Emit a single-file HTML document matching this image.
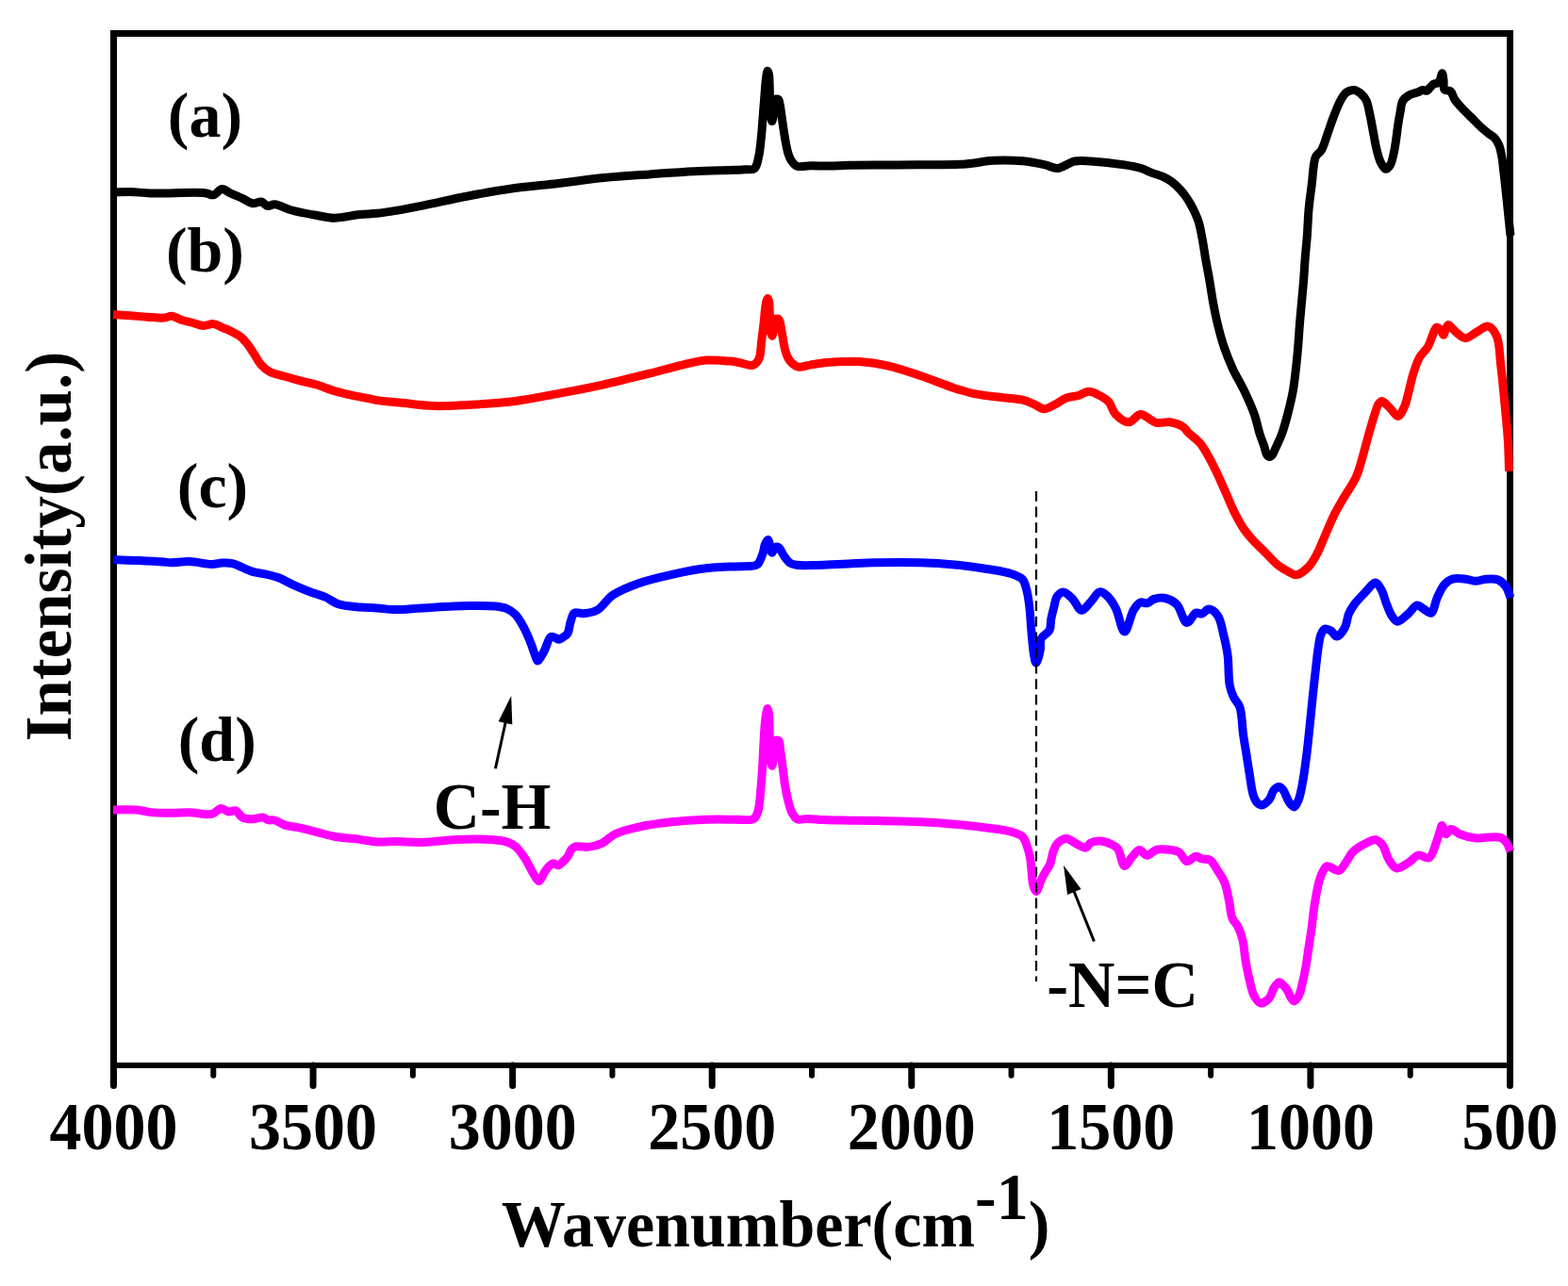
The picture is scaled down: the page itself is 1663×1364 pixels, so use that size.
<!DOCTYPE html>
<html><head><meta charset="utf-8"><style>
html,body{margin:0;padding:0;background:#fff;}
svg{display:block;}
text{font-family:"Liberation Serif","Times New Roman",serif;font-weight:bold;fill:#000;}
.t{font-size:68px;}
.l{font-size:68px;}
.l2{font-size:70.5px;}
.ax{font-size:71px;}
</style></head><body>
<svg width="1663" height="1364" viewBox="0 0 1663 1364">
<rect width="1663" height="1364" fill="#fff"/>
<rect x="117" y="32" width="1488" height="7" fill="#000"/>
<rect x="117" y="32" width="7" height="1101" fill="#000"/>
<rect x="1598" y="32" width="7" height="1101" fill="#000"/>
<rect x="117" y="1127" width="1488" height="6" fill="#000"/>
<line x1="120.50" y1="1130" x2="120.50" y2="1151.5" stroke="#000" stroke-width="7" stroke-linecap="round"/>
<line x1="332.07" y1="1130" x2="332.07" y2="1151.5" stroke="#000" stroke-width="7" stroke-linecap="round"/>
<line x1="543.64" y1="1130" x2="543.64" y2="1151.5" stroke="#000" stroke-width="7" stroke-linecap="round"/>
<line x1="755.21" y1="1130" x2="755.21" y2="1151.5" stroke="#000" stroke-width="7" stroke-linecap="round"/>
<line x1="966.78" y1="1130" x2="966.78" y2="1151.5" stroke="#000" stroke-width="7" stroke-linecap="round"/>
<line x1="1178.35" y1="1130" x2="1178.35" y2="1151.5" stroke="#000" stroke-width="7" stroke-linecap="round"/>
<line x1="1389.92" y1="1130" x2="1389.92" y2="1151.5" stroke="#000" stroke-width="7" stroke-linecap="round"/>
<line x1="1601.49" y1="1130" x2="1601.49" y2="1151.5" stroke="#000" stroke-width="7" stroke-linecap="round"/>
<line x1="226.29" y1="1130" x2="226.29" y2="1140.8" stroke="#000" stroke-width="6" stroke-linecap="round"/>
<line x1="437.86" y1="1130" x2="437.86" y2="1140.8" stroke="#000" stroke-width="6" stroke-linecap="round"/>
<line x1="649.43" y1="1130" x2="649.43" y2="1140.8" stroke="#000" stroke-width="6" stroke-linecap="round"/>
<line x1="861.00" y1="1130" x2="861.00" y2="1140.8" stroke="#000" stroke-width="6" stroke-linecap="round"/>
<line x1="1072.57" y1="1130" x2="1072.57" y2="1140.8" stroke="#000" stroke-width="6" stroke-linecap="round"/>
<line x1="1284.13" y1="1130" x2="1284.13" y2="1140.8" stroke="#000" stroke-width="6" stroke-linecap="round"/>
<line x1="1495.71" y1="1130" x2="1495.71" y2="1140.8" stroke="#000" stroke-width="6" stroke-linecap="round"/>
<text transform="translate(120.50,1219.3) scale(1,1.05)" class="t" text-anchor="middle">4000</text>
<text transform="translate(332.07,1219.3) scale(1,1.05)" class="t" text-anchor="middle">3500</text>
<text transform="translate(543.64,1219.3) scale(1,1.05)" class="t" text-anchor="middle">3000</text>
<text transform="translate(755.21,1219.3) scale(1,1.05)" class="t" text-anchor="middle">2500</text>
<text transform="translate(966.78,1219.3) scale(1,1.05)" class="t" text-anchor="middle">2000</text>
<text transform="translate(1178.35,1219.3) scale(1,1.05)" class="t" text-anchor="middle">1500</text>
<text transform="translate(1389.92,1219.3) scale(1,1.05)" class="t" text-anchor="middle">1000</text>
<text transform="translate(1601.49,1219.3) scale(1,1.05)" class="t" text-anchor="middle">500</text>
<path d="M120.00,204.20 C126.00,203.93 131.72,203.31 138.00,203.40 C144.90,203.50 150.73,204.69 159.70,205.00 C174.32,205.50 206.55,203.48 217.40,204.70 C221.74,205.19 223.51,207.35 226.40,206.80 C229.56,206.20 232.41,200.72 235.50,200.50 C238.45,200.29 241.23,203.48 244.50,205.00 C248.30,206.77 252.99,208.55 257.00,210.40 C260.81,212.16 264.44,215.34 268.00,215.80 C271.08,216.20 274.28,213.49 277.00,214.00 C279.59,214.49 281.54,218.09 284.00,218.50 C286.35,218.89 288.42,216.55 291.40,216.70 C296.12,216.93 302.72,221.16 309.40,223.00 C317.45,225.21 328.37,227.07 336.50,228.50 C343.10,229.66 347.88,231.14 354.50,231.20 C362.61,231.27 373.43,228.43 381.60,227.60 C388.31,226.92 393.75,226.97 400.00,226.30 C406.54,225.60 412.79,224.60 420.00,223.40 C428.56,221.97 437.42,220.21 448.00,218.10 C461.91,215.33 480.11,211.06 496.20,208.00 C512.21,204.96 528.23,202.05 544.30,199.80 C560.30,197.56 576.37,196.38 592.40,194.50 C608.44,192.62 624.45,190.10 640.50,188.50 C656.51,186.90 672.56,186.03 688.60,184.90 C704.63,183.77 721.08,182.47 736.70,181.70 C751.51,180.97 770.63,180.69 780.00,180.30 C784.50,180.11 786.71,179.97 790.00,179.80 C793.21,179.64 797.48,180.37 799.50,179.30 C800.83,178.59 801.25,177.57 802.00,176.00 C803.37,173.14 804.40,167.65 805.30,162.70 C806.41,156.61 807.03,148.96 807.70,142.10 C808.36,135.26 808.76,128.52 809.30,121.60 C809.86,114.49 810.44,106.77 811.00,100.00 C811.50,93.99 811.83,87.54 812.50,83.00 C812.95,79.92 813.49,75.35 814.10,75.30 C814.53,75.27 815.15,77.36 815.50,79.00 C816.13,81.98 816.02,87.44 816.20,92.00 C816.40,97.06 816.41,102.85 816.60,108.00 C816.78,112.82 816.78,118.24 817.30,122.00 C817.66,124.60 818.30,128.50 818.80,128.50 C819.30,128.50 819.91,124.51 820.30,122.00 C820.83,118.62 820.84,113.03 821.30,110.00 C821.58,108.13 821.45,106.18 822.30,105.50 C823.01,104.93 824.71,104.92 825.50,105.50 C826.56,106.28 826.71,108.85 827.20,111.00 C827.87,113.94 828.23,117.74 828.80,121.60 C829.48,126.25 830.20,131.87 831.00,137.00 C831.80,142.14 832.68,147.76 833.60,152.40 C834.36,156.27 834.99,159.87 836.00,163.00 C836.85,165.62 837.57,167.87 839.00,170.00 C840.52,172.26 842.24,174.97 845.00,176.10 C848.66,177.59 854.64,175.81 860.00,175.80 C866.19,175.78 873.33,176.20 880.00,176.10 C886.67,176.00 891.77,175.41 900.00,175.20 C913.27,174.86 933.24,175.08 952.00,174.90 C974.12,174.68 1005.66,175.19 1024.30,173.90 C1036.13,173.08 1043.36,170.83 1053.20,170.30 C1063.41,169.75 1074.79,169.90 1084.50,170.80 C1093.06,171.60 1101.72,173.40 1108.50,174.90 C1113.58,176.02 1117.01,178.80 1121.70,178.50 C1127.31,178.14 1133.76,172.20 1139.80,171.00 C1145.39,169.89 1149.95,170.64 1156.60,171.00 C1166.37,171.53 1182.97,173.39 1192.70,174.90 C1199.39,175.94 1204.39,176.75 1209.50,178.30 C1214.02,179.67 1217.82,181.85 1221.90,183.40 C1225.78,184.87 1229.82,185.76 1233.40,187.40 C1236.80,188.96 1239.86,190.63 1242.90,192.90 C1246.22,195.38 1249.74,198.98 1252.40,201.90 C1254.61,204.32 1256.24,206.50 1258.00,209.00 C1259.82,211.59 1261.48,214.31 1263.10,217.20 C1264.82,220.28 1266.58,223.74 1268.00,227.00 C1269.36,230.11 1270.42,232.60 1271.50,236.30 C1273.01,241.47 1274.32,248.94 1275.50,255.30 C1276.68,261.64 1277.45,267.74 1278.60,274.40 C1279.86,281.72 1281.47,289.69 1282.80,297.40 C1284.14,305.16 1285.16,313.01 1286.60,320.80 C1288.05,328.64 1289.59,336.50 1291.50,344.30 C1293.42,352.17 1295.47,360.04 1298.10,367.80 C1300.78,375.71 1303.95,383.56 1307.50,391.30 C1311.13,399.20 1315.90,406.67 1319.70,414.70 C1323.58,422.90 1327.70,431.97 1330.50,440.00 C1332.93,446.97 1334.12,454.02 1336.00,460.00 C1337.57,464.97 1339.44,469.47 1340.80,473.50 C1341.89,476.74 1342.29,480.48 1343.60,482.30 C1344.42,483.43 1345.52,484.39 1346.50,484.40 C1347.49,484.41 1348.59,483.38 1349.50,482.30 C1350.86,480.70 1351.68,477.88 1353.00,475.00 C1354.88,470.90 1357.61,465.43 1359.60,460.00 C1361.84,453.88 1363.64,447.09 1365.50,440.00 C1367.57,432.09 1369.80,423.00 1371.30,414.70 C1372.73,406.78 1373.50,399.12 1374.40,391.30 C1375.30,383.48 1376.03,375.64 1376.70,367.80 C1377.37,359.97 1377.77,352.13 1378.40,344.30 C1379.03,336.46 1379.80,328.62 1380.50,320.80 C1381.20,312.99 1381.98,305.21 1382.60,297.40 C1383.22,289.58 1383.58,281.73 1384.20,273.90 C1384.82,266.06 1385.68,258.66 1386.30,250.40 C1386.99,241.22 1387.23,230.81 1388.10,221.30 C1388.94,212.12 1390.50,202.34 1391.40,194.30 C1392.13,187.81 1392.41,181.80 1393.20,176.70 C1393.82,172.73 1393.91,169.19 1395.40,166.20 C1396.78,163.42 1399.67,162.27 1401.50,159.20 C1404.11,154.83 1405.96,147.48 1408.10,141.60 C1410.23,135.74 1412.03,129.83 1414.30,124.00 C1416.60,118.10 1419.13,111.07 1421.80,106.40 C1423.77,102.95 1425.43,99.81 1428.00,98.00 C1430.35,96.35 1433.65,95.19 1436.30,95.50 C1438.99,95.82 1441.85,98.12 1444.00,100.00 C1446.05,101.79 1447.61,103.55 1449.00,106.40 C1451.08,110.66 1452.11,118.11 1453.40,124.00 C1454.68,129.85 1455.57,135.74 1456.70,141.60 C1457.83,147.47 1458.80,153.80 1460.20,159.20 C1461.42,163.93 1462.55,168.74 1464.40,172.30 C1465.88,175.15 1467.88,179.12 1469.70,179.30 C1471.26,179.45 1473.20,177.05 1474.50,175.00 C1476.34,172.10 1477.19,166.93 1478.20,162.60 C1479.28,157.96 1479.97,152.88 1480.70,148.00 C1481.43,143.12 1481.87,138.18 1482.60,133.30 C1483.33,128.42 1484.18,123.30 1485.10,118.70 C1485.93,114.55 1486.00,109.95 1487.80,106.90 C1489.34,104.29 1491.78,102.53 1494.40,101.00 C1497.29,99.31 1501.92,98.56 1504.60,97.50 C1506.39,96.79 1507.49,95.71 1509.00,95.50 C1510.46,95.30 1512.19,96.65 1513.50,96.20 C1514.88,95.73 1515.79,93.70 1517.00,92.50 C1518.22,91.30 1519.38,89.77 1520.80,89.00 C1522.13,88.28 1524.08,88.73 1525.20,87.90 C1526.32,87.07 1526.82,85.50 1527.50,84.00 C1528.33,82.19 1529.03,77.66 1529.60,77.70 C1530.21,77.74 1530.62,82.37 1531.00,85.00 C1531.45,88.06 1530.40,93.12 1532.00,95.00 C1533.30,96.53 1536.69,95.30 1538.40,96.70 C1540.49,98.40 1540.86,102.58 1542.80,105.50 C1545.06,108.91 1548.51,112.49 1551.50,115.70 C1554.39,118.81 1557.34,121.44 1560.40,124.50 C1563.69,127.79 1567.25,131.73 1570.60,134.80 C1573.57,137.52 1576.73,140.00 1579.40,142.10 C1581.54,143.78 1583.62,144.65 1585.30,146.50 C1587.10,148.49 1588.51,150.95 1589.70,153.80 C1591.14,157.26 1591.98,161.63 1592.80,166.00 C1593.73,170.95 1594.17,176.75 1594.80,182.00 C1595.41,187.08 1595.87,191.19 1596.50,197.00 C1597.38,205.05 1598.55,216.62 1599.50,225.80 C1600.37,234.22 1601.17,241.93 1602.00,250.00" fill="none" stroke="#000" stroke-width="9" stroke-linejoin="round"/>
<path d="M120.00,333.50 C126.00,333.90 131.99,334.25 138.00,334.70 C144.03,335.15 150.07,335.80 156.10,336.20 C162.11,336.60 169.30,337.51 174.10,337.10 C177.35,336.82 179.39,335.08 182.20,335.30 C185.39,335.55 188.64,338.04 192.20,339.20 C196.12,340.47 200.76,341.43 204.80,342.50 C208.54,343.49 211.98,345.22 215.60,345.40 C219.18,345.57 223.00,343.22 226.40,343.60 C229.62,343.96 232.34,345.99 235.50,347.30 C238.95,348.74 242.92,350.18 246.30,351.90 C249.50,353.53 252.60,355.12 255.30,357.30 C258.00,359.48 260.21,362.11 262.50,365.00 C265.04,368.20 267.30,372.16 269.70,375.80 C272.13,379.49 274.15,383.86 277.00,387.00 C279.64,389.91 282.44,392.29 286.00,394.20 C290.07,396.38 295.32,397.28 300.40,398.80 C306.05,400.49 312.38,402.22 318.40,403.80 C324.41,405.38 330.52,406.51 336.50,408.30 C342.55,410.11 348.45,412.79 354.50,414.60 C360.48,416.39 366.56,417.76 372.60,419.10 C378.59,420.43 385.57,421.58 390.60,422.60 C394.24,423.34 396.13,424.00 400.00,424.60 C406.14,425.56 415.19,426.12 424.00,427.00 C434.81,428.08 448.05,430.20 460.10,430.60 C472.12,431.00 483.31,430.10 496.20,429.40 C511.09,428.60 528.32,427.79 544.30,425.80 C560.38,423.80 576.38,420.40 592.40,417.40 C608.45,414.40 624.50,411.32 640.50,407.80 C656.57,404.26 673.73,399.91 688.60,396.20 C701.51,392.98 713.85,389.38 724.70,386.90 C733.51,384.89 740.74,382.74 748.80,382.10 C756.77,381.46 767.14,382.62 772.80,383.00 C775.91,383.21 777.49,383.28 780.00,383.70 C782.80,384.17 785.86,385.17 788.80,385.80 C791.73,386.43 795.23,387.89 797.60,387.50 C799.38,387.21 800.75,386.22 802.00,385.00 C803.45,383.59 804.61,381.78 805.50,379.20 C806.95,375.03 806.97,367.47 807.70,361.60 C808.43,355.73 809.23,349.87 809.90,344.00 C810.57,338.14 811.06,331.01 811.70,326.40 C812.12,323.40 812.40,320.80 813.00,319.00 C813.37,317.88 813.88,316.39 814.30,316.40 C814.71,316.41 815.19,317.79 815.50,319.00 C816.10,321.36 816.02,326.05 816.20,330.00 C816.41,334.61 816.31,340.78 816.60,345.00 C816.81,348.09 816.98,350.96 817.50,353.00 C817.84,354.34 818.38,356.22 818.80,356.20 C819.32,356.17 819.91,352.99 820.30,351.00 C820.81,348.43 820.88,344.31 821.30,342.00 C821.57,340.52 821.44,339.00 822.20,338.40 C822.95,337.81 824.93,337.79 825.80,338.40 C826.82,339.11 826.99,341.15 827.50,343.00 C828.22,345.63 828.62,349.06 829.30,352.80 C830.22,357.81 831.33,365.78 832.50,370.40 C833.29,373.49 833.93,375.72 835.00,378.00 C835.97,380.07 836.87,381.88 838.50,383.60 C840.48,385.69 843.36,388.49 846.50,389.20 C850.11,390.02 854.62,387.81 859.20,387.10 C864.56,386.27 870.85,385.18 876.70,384.60 C882.55,384.02 888.48,383.77 894.30,383.60 C900.01,383.44 904.91,383.15 911.30,383.60 C919.66,384.19 930.04,385.49 940.10,387.70 C951.54,390.21 964.23,394.52 976.20,398.50 C988.29,402.52 1001.42,408.25 1012.30,411.70 C1021.05,414.48 1028.24,416.60 1036.30,418.20 C1044.27,419.78 1052.36,420.30 1060.40,421.30 C1068.43,422.30 1077.93,422.62 1084.50,424.20 C1089.27,425.34 1092.64,426.97 1096.50,428.60 C1100.23,430.18 1103.67,433.67 1107.30,433.80 C1110.87,433.92 1114.47,431.27 1118.10,429.50 C1122.07,427.57 1125.77,424.21 1130.10,422.50 C1134.58,420.73 1140.31,420.55 1144.60,419.20 C1148.18,418.07 1150.97,415.45 1154.20,415.30 C1157.37,415.15 1160.54,416.67 1163.80,418.20 C1167.71,420.03 1172.60,422.64 1175.80,426.10 C1179.08,429.66 1179.62,435.83 1183.10,439.40 C1186.75,443.15 1192.97,447.99 1197.50,447.80 C1201.74,447.62 1205.06,439.68 1209.50,439.40 C1214.57,439.08 1220.82,447.02 1226.40,448.30 C1231.24,449.41 1236.07,447.04 1240.80,447.80 C1245.68,448.58 1251.87,450.81 1255.20,453.10 C1257.50,454.68 1258.04,456.65 1260.00,458.60 C1262.60,461.19 1267.23,464.65 1269.70,467.00 C1271.34,468.56 1272.14,469.21 1273.60,471.10 C1276.15,474.42 1279.78,480.64 1282.70,485.90 C1285.86,491.59 1288.83,497.83 1291.80,504.10 C1294.91,510.67 1297.87,517.69 1300.90,524.50 C1303.94,531.32 1306.80,538.68 1310.00,545.00 C1312.89,550.72 1315.87,556.15 1319.10,560.90 C1321.98,565.14 1324.74,568.43 1328.20,572.30 C1332.17,576.74 1337.25,581.37 1341.80,585.90 C1346.35,590.44 1350.94,595.93 1355.50,599.50 C1359.27,602.46 1363.30,604.60 1366.80,606.40 C1369.64,607.86 1371.91,610.04 1374.80,609.80 C1378.58,609.48 1383.76,605.27 1387.30,601.80 C1391.02,598.15 1393.57,593.33 1396.40,588.20 C1399.71,582.19 1402.40,574.71 1405.50,567.70 C1408.76,560.33 1412.08,551.82 1415.50,545.00 C1418.44,539.15 1421.14,534.90 1424.50,529.10 C1428.60,522.01 1434.81,513.64 1438.40,505.60 C1441.80,497.98 1443.50,490.03 1445.80,482.20 C1448.10,474.40 1449.95,466.52 1452.20,458.70 C1454.45,450.85 1457.39,440.62 1459.30,435.20 C1460.33,432.26 1460.75,430.16 1462.00,428.50 C1463.01,427.16 1464.21,425.56 1465.70,425.60 C1468.08,425.67 1471.92,430.88 1474.80,433.60 C1477.57,436.22 1480.29,441.83 1482.70,441.60 C1485.21,441.36 1487.67,435.34 1489.50,431.40 C1491.62,426.83 1492.63,420.99 1494.10,415.50 C1495.67,409.65 1496.72,403.31 1498.60,397.30 C1500.51,391.18 1502.57,384.27 1505.50,379.10 C1508.03,374.63 1512.19,371.66 1514.50,367.70 C1516.61,364.07 1517.51,359.95 1519.10,356.40 C1520.55,353.15 1521.78,347.71 1523.60,347.20 C1524.90,346.83 1526.79,348.73 1528.00,350.00 C1529.30,351.37 1530.16,355.37 1531.00,355.30 C1531.81,355.24 1532.18,351.75 1533.00,350.00 C1533.86,348.15 1534.86,344.70 1536.10,344.50 C1537.23,344.31 1538.55,346.66 1540.00,348.00 C1541.88,349.74 1544.04,352.33 1546.40,354.10 C1548.80,355.90 1551.36,358.67 1554.30,358.70 C1557.98,358.74 1562.71,353.95 1566.80,351.80 C1570.67,349.77 1574.83,345.45 1578.20,346.10 C1581.70,346.78 1585.08,351.58 1587.30,356.40 C1590.70,363.76 1590.40,376.64 1591.80,388.20 C1593.47,401.97 1595.07,419.30 1596.40,433.60 C1597.59,446.40 1598.82,458.46 1599.50,470.00 C1600.12,480.42 1600.17,489.87 1600.50,499.80" fill="none" stroke="#f00" stroke-width="9" stroke-linejoin="round"/>
<path d="M120.00,593.60 C129.03,593.90 138.08,594.10 147.10,594.50 C156.11,594.90 167.97,595.53 174.10,596.00 C177.27,596.24 178.30,596.64 181.30,596.70 C186.28,596.80 194.31,595.37 201.20,595.60 C208.70,595.86 218.27,598.51 224.60,598.50 C228.92,598.49 231.87,597.25 235.50,597.10 C239.10,596.95 242.76,596.84 246.30,597.60 C249.97,598.39 253.51,600.44 257.10,601.90 C260.71,603.37 263.97,605.23 267.90,606.40 C272.31,607.71 277.60,607.96 282.40,609.10 C287.24,610.25 292.24,611.51 296.80,613.30 C301.22,615.03 304.78,617.48 309.40,619.60 C314.85,622.10 321.44,624.87 327.50,627.20 C333.47,629.50 340.12,631.11 345.50,633.50 C350.17,635.58 353.07,638.70 358.10,640.40 C364.57,642.59 374.27,643.26 381.60,644.00 C387.98,644.65 393.48,644.48 399.60,644.90 C406.00,645.34 412.03,646.50 419.20,646.60 C427.90,646.72 437.24,645.49 448.10,644.90 C462.10,644.14 482.19,642.73 496.20,642.50 C507.05,642.32 517.58,642.19 525.10,643.00 C529.99,643.53 533.46,643.88 537.10,645.40 C540.64,646.88 543.78,648.89 546.70,651.90 C550.33,655.64 553.50,661.71 556.30,667.00 C559.14,672.37 561.62,678.83 563.60,683.90 C565.19,687.96 566.23,691.89 567.50,695.00 C568.45,697.33 569.22,700.87 570.30,701.00 C571.25,701.11 572.42,698.63 573.50,697.00 C574.97,694.78 576.45,691.81 578.00,688.70 C579.92,684.86 581.66,676.94 584.00,675.60 C585.24,674.89 586.67,675.62 588.00,676.00 C589.47,676.43 590.91,678.19 592.40,678.20 C593.91,678.21 595.50,676.97 597.00,676.00 C598.70,674.90 600.73,673.83 602.00,671.80 C603.74,669.03 603.73,663.70 605.00,660.00 C606.19,656.53 606.87,651.70 609.30,650.20 C611.60,648.78 615.40,651.04 618.90,650.70 C623.24,650.28 628.65,649.67 633.30,647.10 C639.13,643.88 643.42,635.54 650.10,631.00 C657.58,625.93 666.93,622.37 676.60,618.90 C687.55,614.97 700.61,611.99 712.70,609.30 C724.68,606.63 737.17,604.20 748.80,602.80 C759.54,601.51 771.58,601.27 780.00,600.90 C785.71,600.65 790.72,600.72 794.40,600.50 C796.70,600.37 798.35,600.43 800.00,600.00 C801.42,599.63 802.63,599.45 803.80,598.30 C805.78,596.36 807.60,591.14 808.90,587.50 C810.13,584.04 810.30,579.71 811.50,577.00 C812.36,575.06 813.83,572.31 814.60,572.40 C815.25,572.47 815.65,574.62 816.00,576.00 C816.44,577.72 816.28,580.20 816.80,582.00 C817.26,583.59 818.15,586.29 818.80,586.30 C819.38,586.31 819.93,584.02 820.50,583.00 C821.00,582.10 821.22,580.94 822.00,580.50 C822.90,579.99 824.80,579.99 825.80,580.50 C826.79,581.00 827.19,582.27 828.00,583.50 C829.18,585.30 830.43,588.21 832.00,590.40 C833.64,592.68 835.46,595.43 837.70,596.90 C839.80,598.28 841.81,598.70 844.90,599.20 C850.14,600.04 859.38,599.52 866.60,599.40 C873.81,599.28 882.08,598.76 888.20,598.50 C892.72,598.31 895.23,598.21 900.00,598.00 C907.37,597.67 917.48,596.95 928.10,596.70 C941.99,596.38 961.32,596.25 976.20,596.70 C989.10,597.09 1000.29,597.74 1012.30,598.90 C1024.35,600.07 1037.62,601.91 1048.40,603.70 C1057.24,605.17 1065.87,606.27 1072.40,608.50 C1077.25,610.15 1082.01,611.94 1084.50,614.50 C1086.32,616.37 1086.63,618.49 1087.50,621.00 C1088.61,624.20 1089.44,628.18 1090.20,632.30 C1091.10,637.17 1091.75,643.03 1092.30,648.40 C1092.85,653.76 1093.07,659.13 1093.50,664.50 C1093.93,669.87 1094.37,675.48 1094.90,680.60 C1095.38,685.28 1095.77,690.00 1096.50,694.00 C1097.10,697.32 1097.77,702.91 1098.70,703.00 C1099.49,703.08 1100.74,699.21 1101.50,697.00 C1102.36,694.50 1102.95,691.70 1103.40,688.70 C1103.92,685.24 1102.69,680.70 1104.20,677.40 C1105.79,673.92 1111.34,672.03 1113.10,668.50 C1114.83,665.04 1114.04,660.49 1114.80,656.50 C1115.57,652.46 1116.65,648.36 1117.70,644.40 C1118.72,640.53 1119.07,635.84 1121.00,633.00 C1122.62,630.62 1125.17,627.94 1127.60,627.90 C1130.53,627.85 1134.34,632.05 1137.40,635.00 C1140.87,638.35 1143.64,647.01 1147.00,647.30 C1150.06,647.56 1153.48,641.74 1156.60,638.60 C1159.89,635.30 1162.99,628.55 1166.20,627.90 C1168.59,627.42 1171.06,629.37 1173.40,631.30 C1176.76,634.08 1180.19,639.22 1183.10,644.60 C1186.84,651.53 1189.43,670.04 1192.70,670.10 C1195.83,670.15 1198.82,652.51 1202.30,647.00 C1204.58,643.39 1206.81,640.02 1209.50,639.00 C1211.71,638.16 1214.38,640.31 1216.70,639.80 C1219.22,639.25 1221.14,636.31 1224.00,635.40 C1227.40,634.32 1232.12,633.67 1236.00,634.50 C1240.13,635.38 1244.52,637.55 1248.00,641.00 C1252.45,645.41 1254.97,660.05 1258.80,660.50 C1261.86,660.86 1265.24,651.11 1268.40,650.00 C1270.52,649.26 1272.60,651.45 1274.70,651.00 C1277.17,650.46 1279.50,646.03 1282.10,646.10 C1285.09,646.18 1289.12,649.58 1291.60,653.10 C1294.99,657.91 1296.14,667.13 1297.90,674.20 C1299.63,681.17 1301.07,687.45 1302.10,695.20 C1303.35,704.62 1302.61,718.72 1304.20,726.80 C1305.23,732.03 1306.57,735.48 1308.40,739.40 C1310.17,743.19 1313.27,745.36 1314.90,750.00 C1317.41,757.16 1317.31,770.42 1318.60,779.40 C1319.69,787.03 1320.88,793.47 1322.00,800.50 C1323.12,807.51 1324.14,814.50 1325.30,821.50 C1326.47,828.53 1327.29,837.25 1329.00,842.60 C1330.13,846.13 1331.24,849.08 1333.00,851.00 C1334.37,852.50 1336.08,853.99 1337.90,853.90 C1340.36,853.78 1344.13,850.41 1346.30,847.80 C1348.52,845.13 1348.94,840.27 1351.00,838.00 C1352.63,836.21 1355.06,834.37 1356.80,834.50 C1358.36,834.62 1359.82,836.49 1361.00,838.00 C1362.37,839.76 1363.07,842.43 1364.20,844.70 C1365.39,847.09 1366.46,850.04 1368.00,852.00 C1369.33,853.69 1371.19,856.21 1372.60,856.00 C1374.24,855.76 1375.74,851.97 1377.00,849.00 C1378.84,844.68 1379.91,838.57 1381.20,832.00 C1382.94,823.14 1384.47,811.02 1385.80,800.50 C1387.13,789.99 1388.10,779.44 1389.20,768.90 C1390.30,758.37 1391.31,747.64 1392.40,737.30 C1393.45,727.32 1394.55,716.98 1395.60,707.90 C1396.51,700.06 1397.25,692.33 1398.30,686.00 C1399.11,681.09 1399.53,676.37 1401.00,673.00 C1402.09,670.51 1403.39,667.72 1405.20,667.10 C1406.93,666.51 1409.52,667.86 1411.50,669.00 C1413.79,670.32 1415.67,675.09 1417.90,675.00 C1420.56,674.90 1424.23,669.52 1426.30,665.80 C1428.60,661.67 1428.60,655.40 1430.50,651.00 C1432.20,647.08 1434.23,643.96 1436.80,640.50 C1439.70,636.59 1443.63,632.62 1447.30,628.90 C1450.99,625.15 1455.71,617.88 1458.90,618.10 C1461.43,618.27 1463.41,622.64 1465.20,625.80 C1467.45,629.76 1468.63,635.83 1470.50,640.50 C1472.25,644.87 1473.77,649.71 1476.00,653.00 C1477.78,655.63 1479.64,658.99 1482.10,659.20 C1485.24,659.47 1490.05,653.94 1493.60,651.00 C1497.03,648.16 1500.06,642.25 1503.10,641.90 C1505.48,641.63 1507.62,644.64 1510.00,646.00 C1512.51,647.44 1515.65,651.07 1517.80,650.30 C1520.80,649.22 1521.84,639.29 1524.20,634.20 C1526.43,629.38 1528.52,623.96 1531.50,620.50 C1533.96,617.64 1536.56,615.34 1540.00,614.20 C1544.06,612.86 1550.23,613.76 1554.70,614.20 C1558.51,614.58 1561.70,616.30 1565.20,616.30 C1568.70,616.30 1572.02,614.48 1575.70,614.20 C1579.69,613.90 1584.70,613.44 1588.30,614.80 C1591.65,616.06 1594.90,619.25 1596.80,621.60 C1598.22,623.35 1598.67,625.06 1599.50,627.00 C1600.42,629.16 1601.17,631.67 1602.00,634.00" fill="none" stroke="#00f" stroke-width="9" stroke-linejoin="round"/>
<path d="M120.00,858.90 C129.03,859.00 139.80,858.47 147.10,859.20 C152.12,859.70 154.83,861.07 159.70,861.60 C166.28,862.32 175.80,862.29 183.10,862.30 C189.52,862.31 194.78,861.67 201.20,861.80 C208.50,861.95 218.60,864.84 224.60,863.40 C228.83,862.38 231.39,857.60 234.60,857.40 C237.40,857.23 240.03,860.66 242.70,861.00 C245.12,861.31 247.67,859.08 249.90,859.80 C252.54,860.64 254.17,865.49 257.10,867.00 C260.13,868.56 264.29,868.80 267.90,868.80 C271.52,868.80 275.86,866.56 278.80,867.00 C280.98,867.33 282.21,869.19 284.20,869.70 C286.37,870.26 288.83,869.37 291.40,870.00 C294.71,870.82 298.14,873.78 302.20,875.10 C306.97,876.65 312.87,876.98 318.40,878.20 C324.28,879.49 330.48,881.20 336.50,882.70 C342.51,884.20 347.85,885.98 354.50,887.20 C362.57,888.68 373.44,889.36 381.60,890.40 C388.33,891.25 393.72,892.52 400.00,892.90 C406.51,893.29 412.77,892.55 420.00,892.60 C428.57,892.66 438.15,893.66 448.10,893.40 C459.39,893.11 472.16,890.98 484.20,890.50 C496.22,890.02 510.56,889.81 520.30,890.50 C526.98,890.97 532.38,891.42 537.10,892.90 C540.86,894.07 543.74,895.30 546.70,897.70 C550.25,900.58 553.26,905.27 556.30,909.80 C559.74,914.93 563.15,922.58 566.00,927.10 C567.94,930.18 569.70,934.51 571.30,934.60 C572.46,934.66 573.50,932.46 574.50,931.00 C575.77,929.15 576.35,926.45 578.00,924.20 C580.05,921.41 583.63,916.57 586.40,915.90 C588.42,915.41 590.62,918.15 592.40,917.80 C594.14,917.46 595.48,915.43 597.00,914.00 C598.69,912.41 600.54,910.66 602.00,908.60 C603.58,906.37 604.36,902.84 606.00,901.00 C607.31,899.53 608.48,898.49 610.50,897.90 C613.64,896.99 619.24,898.89 623.70,898.40 C628.43,897.88 633.47,896.74 638.10,894.60 C643.14,892.27 646.91,887.25 652.60,884.50 C659.38,881.23 667.71,879.30 676.60,877.30 C687.33,874.88 700.64,873.13 712.70,871.80 C724.71,870.47 737.20,869.72 748.80,869.30 C759.57,868.91 771.08,869.21 780.00,869.20 C786.70,869.19 794.10,870.23 797.60,869.20 C799.28,868.70 800.02,868.18 801.00,867.00 C802.43,865.28 803.41,862.44 804.30,859.00 C805.77,853.32 806.27,843.42 807.00,835.60 C807.73,827.78 808.22,819.93 808.70,812.10 C809.18,804.29 809.44,796.52 809.90,788.70 C810.37,780.82 810.83,771.21 811.50,765.00 C811.94,760.95 812.47,757.47 813.00,755.00 C813.32,753.52 813.64,751.50 814.00,751.50 C814.40,751.50 814.98,754.06 815.30,756.00 C815.86,759.35 815.80,764.66 816.00,770.00 C816.26,777.13 816.30,788.02 816.60,795.00 C816.82,800.04 816.84,804.86 817.40,808.00 C817.73,809.84 818.29,812.32 818.70,812.30 C819.23,812.28 819.80,807.80 820.20,805.00 C820.73,801.30 820.90,795.59 821.30,792.00 C821.58,789.46 821.14,786.42 822.20,785.50 C822.98,784.82 824.92,784.77 825.80,785.50 C827.23,786.70 826.92,791.37 827.50,795.00 C828.28,799.86 829.06,805.95 829.90,812.10 C830.88,819.31 831.72,828.36 833.00,835.60 C834.11,841.92 835.52,848.37 836.90,853.20 C837.89,856.67 838.51,859.35 840.00,862.00 C841.46,864.61 843.15,867.88 845.70,869.00 C848.45,870.21 852.25,868.38 856.20,868.40 C861.31,868.43 867.35,869.31 873.80,869.60 C881.66,869.96 891.11,870.05 900.00,870.20 C909.20,870.35 917.48,870.30 928.10,870.50 C941.99,870.76 961.32,871.10 976.20,871.80 C989.10,872.40 1000.28,873.13 1012.30,874.20 C1024.35,875.27 1037.61,876.73 1048.40,878.20 C1057.23,879.41 1065.86,880.17 1072.40,882.10 C1077.22,883.52 1081.72,884.74 1084.50,887.40 C1086.92,889.72 1087.64,893.05 1088.90,896.40 C1090.38,900.32 1091.65,905.17 1092.50,909.60 C1093.34,913.97 1093.55,918.40 1094.00,922.80 C1094.45,927.20 1094.54,932.40 1095.20,936.00 C1095.67,938.57 1096.20,940.80 1097.00,942.50 C1097.59,943.75 1098.42,945.54 1099.10,945.50 C1099.86,945.46 1100.66,942.97 1101.30,941.50 C1102.02,939.84 1102.26,938.07 1103.10,936.00 C1104.27,933.14 1106.24,929.37 1108.00,926.10 C1109.80,922.77 1112.31,919.85 1113.80,916.20 C1115.42,912.22 1115.58,906.90 1117.10,903.00 C1118.42,899.62 1119.67,896.25 1122.00,894.00 C1124.31,891.77 1127.84,889.48 1131.00,889.50 C1134.54,889.53 1138.57,893.63 1142.20,895.30 C1145.49,896.82 1149.29,899.75 1151.80,899.20 C1153.87,898.75 1154.49,895.28 1156.60,894.10 C1159.09,892.70 1162.83,892.01 1166.20,892.10 C1170.01,892.20 1174.89,893.77 1178.30,895.30 C1181.13,896.58 1183.42,897.52 1185.50,900.10 C1188.64,904.00 1189.84,918.03 1192.70,918.50 C1194.87,918.86 1197.42,912.61 1200.00,909.80 C1202.62,906.94 1205.41,901.76 1208.30,901.50 C1210.99,901.26 1213.77,907.23 1216.70,907.30 C1219.79,907.38 1222.68,902.36 1226.40,901.30 C1230.58,900.11 1236.51,900.77 1240.80,901.30 C1244.35,901.74 1247.55,901.92 1250.40,903.70 C1253.67,905.74 1255.65,913.14 1258.80,913.70 C1261.70,914.22 1265.50,908.35 1268.40,908.20 C1270.69,908.08 1272.39,910.35 1274.70,911.00 C1277.27,911.72 1280.66,910.59 1283.20,912.10 C1286.49,914.05 1288.99,919.68 1291.60,923.70 C1294.23,927.75 1296.98,931.52 1298.90,936.30 C1301.12,941.82 1302.15,948.89 1303.50,955.20 C1304.84,961.46 1304.98,969.03 1307.00,974.00 C1308.52,977.74 1311.27,979.53 1313.00,983.00 C1315.05,987.11 1316.71,992.00 1318.00,997.30 C1319.53,1003.58 1319.80,1011.39 1321.00,1018.40 C1322.20,1025.43 1323.60,1032.84 1325.20,1039.40 C1326.64,1045.29 1327.67,1051.65 1330.00,1056.00 C1331.82,1059.39 1334.13,1063.55 1336.80,1064.00 C1339.54,1064.46 1343.94,1061.03 1346.30,1058.40 C1348.70,1055.72 1349.07,1050.89 1351.00,1048.00 C1352.66,1045.51 1354.96,1041.96 1356.80,1041.80 C1358.25,1041.68 1359.67,1043.73 1361.00,1045.00 C1362.48,1046.41 1363.99,1048.11 1365.20,1050.00 C1366.52,1052.06 1367.19,1054.95 1368.50,1057.00 C1369.69,1058.87 1371.17,1061.90 1372.60,1061.90 C1374.16,1061.90 1376.15,1058.56 1377.50,1056.00 C1379.36,1052.47 1380.29,1046.92 1381.50,1042.00 C1382.82,1036.63 1383.95,1030.91 1385.00,1025.00 C1386.13,1018.62 1387.00,1011.67 1388.00,1005.00 C1389.00,998.33 1390.04,992.04 1391.00,985.00 C1392.08,977.14 1392.77,968.31 1394.10,960.00 C1395.44,951.64 1397.11,941.58 1399.00,935.00 C1400.28,930.52 1401.53,926.90 1403.20,924.00 C1404.47,921.79 1405.42,919.26 1407.50,918.70 C1410.41,917.91 1416.51,924.34 1420.00,923.40 C1423.48,922.46 1425.87,916.51 1428.40,913.10 C1430.73,909.95 1432.03,906.44 1434.70,903.70 C1437.55,900.78 1441.34,898.42 1445.20,896.30 C1449.35,894.03 1455.14,890.21 1458.90,890.70 C1461.87,891.09 1464.21,893.63 1466.30,896.30 C1469.05,899.81 1469.97,906.75 1472.60,911.00 C1474.97,914.83 1477.58,920.13 1481.00,920.90 C1484.53,921.69 1489.70,917.53 1493.60,915.20 C1497.43,912.91 1500.39,907.93 1504.20,907.10 C1507.79,906.32 1512.68,911.17 1515.70,909.70 C1519.35,907.93 1521.15,899.12 1523.10,894.20 C1524.78,889.95 1525.82,885.42 1527.00,882.00 C1527.87,879.48 1528.59,875.53 1529.40,875.50 C1530.09,875.47 1530.81,878.48 1531.50,880.00 C1532.21,881.55 1532.55,884.50 1533.60,884.70 C1534.86,884.94 1536.75,879.80 1538.90,879.50 C1541.50,879.14 1544.68,883.24 1548.40,884.70 C1553.11,886.54 1559.75,888.42 1565.20,888.90 C1570.23,889.35 1575.18,887.87 1579.90,887.90 C1584.29,887.92 1589.43,887.49 1592.60,888.90 C1595.02,889.97 1596.50,891.88 1598.00,894.00 C1599.73,896.44 1600.67,900.00 1602.00,903.00" fill="none" stroke="#f0f" stroke-width="9" stroke-linejoin="round"/>
<line x1="1099" y1="521" x2="1099" y2="1041" stroke="#000" stroke-width="2.2" stroke-dasharray="10.8 5.8"/>
<line x1="525.4" y1="815.3" x2="536.4" y2="765.0" stroke="#000" stroke-width="3"/><polygon points="542.2,738.1 543.3,768.5 528.6,765.3" fill="#000"/>
<line x1="1160.4" y1="998.5" x2="1138.6" y2="944.2" stroke="#000" stroke-width="3"/><polygon points="1128,917.7 1146.6,943.1 1132.1,948.9" fill="#000"/>
<text transform="translate(177.8,144.5) scale(1,1.01)" class="l">(a)</text>
<text transform="translate(175.9,288.4) scale(1,1.01)" class="l">(b)</text>
<text transform="translate(187.8,537.5) scale(1,1.01)" class="l">(c)</text>
<text transform="translate(188.7,806.6) scale(1,1.01)" class="l">(d)</text>
<text transform="translate(459.8,878.8) scale(1,1.037)" class="l">C-H</text>
<text transform="translate(1110.3,1068.1) scale(1,1.029)" class="l" style="font-size:68.5px">-N=C</text>
<text transform="translate(531.85,1322) scale(1,1.0375)" class="l">Wavenumber(cm<tspan dy="-27.5">-1</tspan><tspan dy="27.5">)</tspan></text>
<text transform="translate(75.2,786.3) rotate(-90) scale(1,1.027)" class="l" style="font-size:68.9px">Intensity(a.u.)</text>
</svg>
</body></html>
